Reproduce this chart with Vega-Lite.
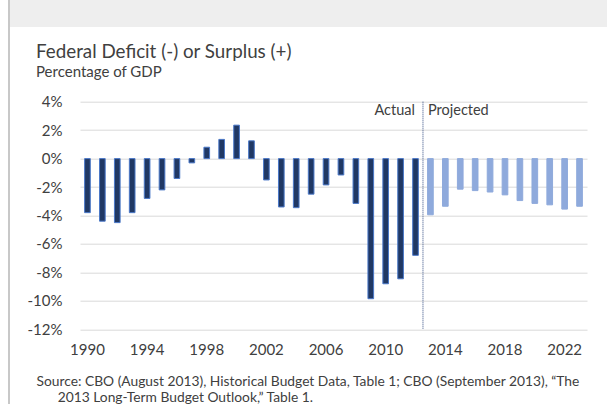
{
  "$schema": "https://vega.github.io/schema/vega-lite/v6.json",
  "padding": {"left": 8, "top": 0, "right": 0, "bottom": 0},
  "background": "white",
  "config": {
    "font": "Lato",
    "view": {"stroke": null},
    "axisY": {
      "values": [-12, -10, -8, -6, -4, -2, 0, 2, 4],
      "tickCount": 12,
      "labelOverlap": false,
      "labelExpr": "datum.value + '%'",
      "ticks": false, "domain": false, "title": null,
      "gridColor": "#d9d9d9", "gridWidth": 1,
      "labelFontSize": 15, "labelColor": "#404040", "labelPadding": 18
    }
  },
  "bounds": "flush",
  "spacing": 0,
  "hconcat": [
    {
      "width": 2, "height": 404,
      "view": {"fill": "#c8c8c8", "stroke": null},
      "data": {"values": []},
      "mark": "rule", "encoding": {}
    },
    {
      "bounds": "flush",
      "spacing": 74.7,
      "vconcat": [
        {
          "width": 597, "height": 27,
          "view": {"fill": "#eeeeee", "stroke": null},
          "data": {"values": []},
          "mark": "rule", "encoding": {}
        },
        {
          "bounds": "flush",
          "spacing": 69,
          "hconcat": [
            {
              "width": 1, "height": 1,
              "data": {"values": []},
              "mark": "rule", "encoding": {}
            },
            {
              "width": 507, "height": 227.6,
              "title": {
                "text": "Federal Deficit (-) or Surplus (+)",
                "subtitle": "Percentage of GDP",
                "anchor": "start", "frame": "group", "dx": -44,
                "fontSize": 18.8, "fontWeight": "normal", "color": "#404040",
                "subtitleFontSize": 15, "subtitleColor": "#404040", "subtitlePadding": 3,
                "offset": 15
              },
              "data": {"values": [
                {"year": 1990, "value": -3.8, "type": "Actual"},
                {"year": 1991, "value": -4.4, "type": "Actual"},
                {"year": 1992, "value": -4.5, "type": "Actual"},
                {"year": 1993, "value": -3.8, "type": "Actual"},
                {"year": 1994, "value": -2.8, "type": "Actual"},
                {"year": 1995, "value": -2.2, "type": "Actual"},
                {"year": 1996, "value": -1.4, "type": "Actual"},
                {"year": 1997, "value": -0.3, "type": "Actual"},
                {"year": 1998, "value": 0.8, "type": "Actual"},
                {"year": 1999, "value": 1.35, "type": "Actual"},
                {"year": 2000, "value": 2.35, "type": "Actual"},
                {"year": 2001, "value": 1.25, "type": "Actual"},
                {"year": 2002, "value": -1.5, "type": "Actual"},
                {"year": 2003, "value": -3.4, "type": "Actual"},
                {"year": 2004, "value": -3.45, "type": "Actual"},
                {"year": 2005, "value": -2.5, "type": "Actual"},
                {"year": 2006, "value": -1.85, "type": "Actual"},
                {"year": 2007, "value": -1.15, "type": "Actual"},
                {"year": 2008, "value": -3.15, "type": "Actual"},
                {"year": 2009, "value": -9.85, "type": "Actual"},
                {"year": 2010, "value": -8.8, "type": "Actual"},
                {"year": 2011, "value": -8.45, "type": "Actual"},
                {"year": 2012, "value": -6.8, "type": "Actual"},
                {"year": 2013, "value": -3.95, "type": "Projected"},
                {"year": 2014, "value": -3.35, "type": "Projected"},
                {"year": 2015, "value": -2.15, "type": "Projected"},
                {"year": 2016, "value": -2.25, "type": "Projected"},
                {"year": 2017, "value": -2.35, "type": "Projected"},
                {"year": 2018, "value": -2.55, "type": "Projected"},
                {"year": 2019, "value": -2.95, "type": "Projected"},
                {"year": 2020, "value": -3.15, "type": "Projected"},
                {"year": 2021, "value": -3.25, "type": "Projected"},
                {"year": 2022, "value": -3.55, "type": "Projected"},
                {"year": 2023, "value": -3.35, "type": "Projected"}
              ]},
              "layer": [
                {
                  "mark": {"type": "bar", "width": {"band": 0.38}, "strokeWidth": 1},
                  "encoding": {
                    "x": {
                      "field": "year", "type": "ordinal",
                      "scale": {"paddingInner": 0, "paddingOuter": 0},
                      "axis": {
                        "values": [1990, 1994, 1998, 2002, 2006, 2010, 2014, 2018, 2022],
                        "labelAngle": 0, "ticks": false, "domain": false,
                        "labelFontSize": 15, "labelColor": "#404040", "labelPadding": 13,
                        "title": [
                          "Source: CBO (August 2013), Historical Budget Data, Table 1; CBO (September 2013), \u201cThe",
                          "\u200b\u00a0\u00a0\u00a0\u00a0\u00a0\u00a02013 Long-Term Budget Outlook,\u201d Table 1."
                        ],
                        "titleFontSize": 13.8, "titleFontWeight": "normal", "titleColor": "#404040",
                        "titleAnchor": "start", "titleAlign": "left", "titleBaseline": "alphabetic",
                        "titleX": -44, "titleY": 56, "titleLineHeight": 16
                      }
                    },
                    "y": {
                      "field": "value", "type": "quantitative",
                      "scale": {"domain": [-12, 4], "nice": false},
                      "axis": {
                        "values": [-12, -10, -8, -6, -4, -2, 0, 2, 4],
                        "tickCount": 12
                      }
                    },
                    "fill": {
                      "field": "type", "type": "nominal",
                      "scale": {"domain": ["Actual", "Projected"], "range": ["#203864", "#8faadc"]},
                      "legend": null
                    },
                    "stroke": {
                      "field": "type", "type": "nominal",
                      "scale": {"domain": ["Actual", "Projected"], "range": ["#4a78c8", "#8faadc"]},
                      "legend": null
                    }
                  }
                },
                {
                  "data": {"values": [{"year": 2013}]},
                  "mark": {"type": "rule", "color": "#2f4a80", "strokeDash": [1, 1], "strokeWidth": 1},
                  "encoding": {
                    "x": {"field": "year", "type": "ordinal", "bandPosition": 0}
                  }
                },
                {
                  "data": {"values": [{"year": 2013, "label": "Actual"}]},
                  "mark": {"type": "text", "align": "right", "baseline": "alphabetic", "dx": -8, "fontSize": 14.5, "color": "#404040"},
                  "encoding": {
                    "x": {"field": "year", "type": "ordinal", "bandPosition": 0},
                    "y": {"datum": 3.1, "type": "quantitative", "axis": {"values": [-12, -10, -8, -6, -4, -2, 0, 2, 4], "tickCount": 12}},
                    "text": {"field": "label"}
                  }
                },
                {
                  "data": {"values": [{"year": 2013, "label": "Projected"}]},
                  "mark": {"type": "text", "align": "left", "baseline": "alphabetic", "dx": 5, "fontSize": 14.5, "color": "#404040"},
                  "encoding": {
                    "x": {"field": "year", "type": "ordinal", "bandPosition": 0},
                    "y": {"datum": 3.1, "type": "quantitative", "axis": {"values": [-12, -10, -8, -6, -4, -2, 0, 2, 4], "tickCount": 12}},
                    "text": {"field": "label"}
                  }
                }
              ]
            }
          ]
        }
      ]
    }
  ]
}
